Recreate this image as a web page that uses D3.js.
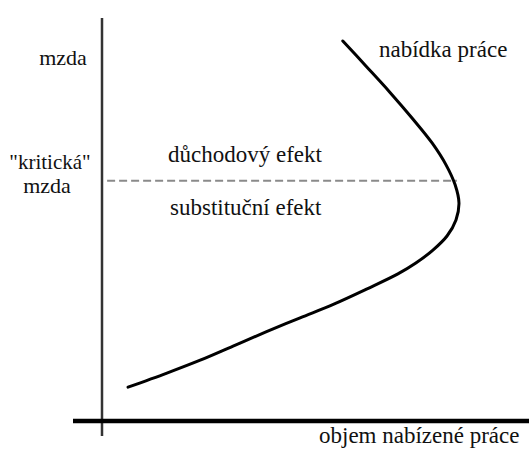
<!DOCTYPE html>
<html>
<head>
<meta charset="utf-8">
<script src="https://cdn.jsdelivr.net/npm/d3@7"></script>
<style>
  html, body { margin: 0; padding: 0; background: #fff; }
</style>
</head>
<body>
<div id="chart"></div>
<script>
// backward-bending labour supply curve (arbitrary units, 0..100)
var supplyQty  = [56.4, 61.8, 67.4, 72.6, 77.3, 80.6, 82.7, 83.6, 82.9, 80.8, 77.5, 73.5, 69.3, 62.1, 54.3, 46.4, 38.4, 30.7, 23.0, 15.2, 6.1];
var supplyWage = [94.3, 88.1, 81.6, 75.2, 69.0, 63.5, 58.6, 54.1, 49.9, 45.9, 42.4, 39.2, 36.5, 32.8, 29.0, 25.6, 22.1, 18.6, 15.1, 11.9, 8.4];
var criticalWage = 59.6;
var criticalQty = [1.2, 83.1]; // dashed line from axis to the curve

var yLabels = ["mzda", "\"kritická\"", "mzda"];
var effectLabels = ["důchodový efekt", "substituční efekt"];
var curveLabel = "nabídka práce";
var xLabel = "objem nabízené práce";

var width = 529, height = 450;
var x0 = 102, y0 = 421; // origin
var font = "'Liberation Serif', 'Times New Roman', serif";

var x = d3.scaleLinear().domain([0, 100]).range([x0, width]);
var y = d3.scaleLinear().domain([0, 100]).range([y0, 18]);

var svg = d3.select("#chart")
  .append("svg")
  .attr("width", width)
  .attr("height", height);

// vertical axis (wage)
svg.append("line")
  .attr("x1", x(0)).attr("x2", x(0))
  .attr("y1", y(100)).attr("y2", y0 + 15)
  .style("stroke", "#333")
  .style("stroke-width", 2.5);

// horizontal axis (quantity)
svg.append("line")
  .attr("x1", x0 - 29).attr("x2", x(100))
  .attr("y1", y(0)).attr("y2", y(0))
  .style("stroke", "#000")
  .style("stroke-width", 4.5);

// critical wage
svg.append("line")
  .attr("x1", x(criticalQty[0])).attr("x2", x(criticalQty[1]))
  .attr("y1", y(criticalWage)).attr("y2", y(criticalWage))
  .style("stroke", "#8a8a8a")
  .style("stroke-width", 2)
  .style("stroke-dasharray", "8,4");

var pts = supplyQty.map(function(d, i) { return [d, supplyWage[i]]; });

var line = d3.line()
  .x(function(d) { return x(d[0]); })
  .y(function(d) { return y(d[1]); })
  .curve(d3.curveCatmullRom.alpha(0.5));

svg.append("path")
  .datum(pts)
  .attr("d", line)
  .style("fill", "none")
  .style("stroke", "#000")
  .style("stroke-width", 3)
  .style("stroke-linecap", "round");

// texts
function label(tx, ty, s, size, anchor) {
  svg.append("text")
    .attr("x", tx).attr("y", ty)
    .attr("text-anchor", anchor || "start")
    .style("font-family", font)
    .style("font-size", (size || 23) + "px")
    .style("fill", "#111")
    .text(s);
}
label(63, 65, yLabels[0], 22, "middle");
label(50, 169, yLabels[1], 21, "middle");
label(47, 193, yLabels[2], 22, "middle");
label(168, 162, effectLabels[0]);
label(170, 215, effectLabels[1]);
label(379, 57, curveLabel);
label(319, 443, xLabel);
</script>
</body>
</html>
